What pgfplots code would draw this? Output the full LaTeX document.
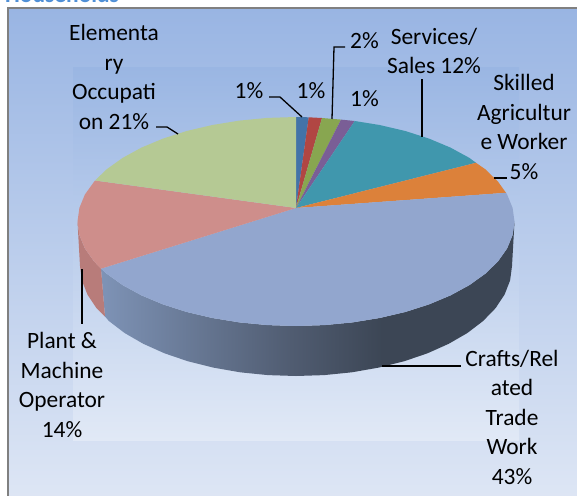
\documentclass[border=0pt]{standalone}
\usepackage{pgfplots}
\pgfplotsset{compat=1.18}
\usepackage{fontspec}
\setmainfont{Carlito}

\definecolor{bgtop}{HTML}{99B5E3}
\definecolor{bgbot}{HTML}{DFE7F5}
\definecolor{intop}{HTML}{9AB6E3}
\definecolor{inbot}{HTML}{E1E9F6}
\definecolor{cBlue}{HTML}{4373A8}
\definecolor{cRed}{HTML}{B14643}
\definecolor{cGreen}{HTML}{88A650}
\definecolor{cPurple}{HTML}{7A5E96}
\definecolor{cTeal}{HTML}{4097AD}
\definecolor{cOrange}{HTML}{DC813A}
\definecolor{cCrafts}{HTML}{92A6CE}
\definecolor{cPlant}{HTML}{CE8E8B}
\definecolor{cPlantSide}{HTML}{B87C7A}
\definecolor{cElem}{HTML}{B5C994}
\definecolor{sideL}{HTML}{7E93B6}
\definecolor{sideM}{HTML}{505C71}
\definecolor{sideR}{HTML}{3C4655}
\definecolor{frame}{HTML}{808080}
\definecolor{hh}{HTML}{4F8FD6}

% dark from about the middle of the wall onward
\pgfdeclarehorizontalshading{craftsside}{100bp}{
    color(0bp)=(sideL); color(25bp)=(sideL); color(48bp)=(sideM);
    color(59bp)=(sideR); color(100bp)=(sideR)}

\tikzset{
    lbl/.style={font=\fontsize{23.4}{29.5}\selectfont, align=center, inner sep=0pt, text=black},
    lead/.style={black, line width=1.3pt},
}

\begin{document}
\begin{tikzpicture}[x=1pt,y=1pt]
\useasboundingbox (0,0) rectangle (577pt,495pt);
\clip (0,0) rectangle (577pt,495pt);
\begin{axis}[
    at={(0,0)},
    anchor=south west,
    scale only axis,
    width=577pt,
    height=495pt,
    xmin=0, xmax=577,
    ymin=0, ymax=495,
    y dir=reverse,
    hide axis,
    clip=false,
    every axis plot/.append style={mark=none},
]
% chart frame and gradients
\addplot[draw=frame, line width=2pt, top color=bgtop, bottom color=bgbot]
    coordinates {(8,8) (590,8) (590,510) (8,510)} --cycle;
\addplot[draw=none, top color=intop, bottom color=inbot]
    coordinates {(73,67) (519,67) (519,440) (73,440)} --cycle;

% side wall, Crafts
\addplot[draw=none, shading=craftsside]
    coordinates {(514.5,221.5) (512.6,235.1) (507.1,248.5) (497.9,261.5) (485.2,273.8) (469.4,285.1)
    (450.5,295.4) (429,304.4) (405.3,312) (379.6,318) (352.6,322.4) (324.5,325.1) (296,326)
    (267.5,325.1) (239.4,322.4) (212.4,318) (186.7,312) (163,304.4) (141.5,295.4) (122.6,285.1)
    (106.8,273.8) (101,268.7)
    (105,316.5) (108.9,321) (124.6,333) (143.3,343.8) (164.5,353.3) (188,361.3) (213.3,367.6)
    (240.1,372.3) (267.8,375.1) (296,376) (324.2,375.1) (351.9,372.3) (378.7,367.6) (404,361.3)
    (427.5,353.3) (448.7,343.8) (467.4,333) (483.1,321) (495.6,308.1) (504.6,294.5) (510.1,280.4) (512,266)} --cycle;
% side wall, Plant
\addplot[draw=none, fill=cPlantSide]
    coordinates {(101,268.7) (94.1,261.5) (84.9,248.5) (79.4,235.1) (77.5,221.5)
    (80,266) (81.9,280.4) (87.4,294.5) (96.4,308.1) (105,316.5)} --cycle;

% top face, one polygon per slice: 1, 1, 2, 1, 12, 5, 43, 14, 21 percent
\addplot[draw=none, fill=cBlue] coordinates {(296,208) (296,117) (308.7,117.3)} --cycle;
\addplot[draw=none, fill=cRed] coordinates {(296,208) (308.7,117.3) (322,118)} --cycle;
\addplot[draw=none, fill=cGreen] coordinates {(296,208) (322,118) (341,119.6)} --cycle;
\addplot[draw=none, fill=cPurple] coordinates {(296,208) (341,119.6) (354.7,121)} --cycle;
\addplot[draw=none, fill=cTeal] coordinates {(296,208) (354.7,121) (379.6,125) (405.3,131) (429,138.6)
    (450.5,147.6) (469.4,157.9) (476,162.8)} --cycle;
\addplot[draw=none, fill=cOrange] coordinates {(296,208) (476,162.8) (485.2,169.2) (497.9,181.5) (506,192.8)} --cycle;
\addplot[draw=none, fill=cCrafts] coordinates {(296,208) (506,192.8) (507.1,194.5) (512.6,207.9) (514.5,221.5)
    (512.6,235.1) (507.1,248.5) (497.9,261.5) (485.2,273.8) (469.4,285.1) (450.5,295.4) (429,304.4)
    (405.3,312) (379.6,318) (352.6,322.4) (324.5,325.1) (296,326) (267.5,325.1) (239.4,322.4)
    (212.4,318) (186.7,312) (163,304.4) (141.5,295.4) (122.6,285.1) (106.8,273.8) (101,268.7)} --cycle;
\addplot[draw=none, fill=cPlant] coordinates {(296,208) (101,268.7) (94.1,261.5) (84.9,248.5) (79.4,235.1)
    (77.5,221.5) (79.4,207.9) (84.9,194.5) (95,180.5)} --cycle;
\addplot[draw=none, fill=cElem] coordinates {(296,208) (95,180.5) (106.8,169.2) (122.6,157.9) (141.5,147.6)
    (163,138.6) (186.7,131) (212.4,125) (239.4,120.6) (267.5,117.9) (296,117)} --cycle;

% leader lines
\addplot[lead] coordinates {(156,127) (167,127) (178,134)};
\addplot[lead] coordinates {(269,97) (280,97) (302,117)};
\addplot[lead] coordinates {(345,47) (334,47) (332,119)};
\addplot[lead] coordinates {(422,79) (422,137)};
\addplot[lead] coordinates {(494,178) (507,178)};
\addplot[lead] coordinates {(382,366) (461,366)};
\addplot[lead] coordinates {(82,269) (82,324)};

% labels
\node[lbl] at (axis cs:114,77) {Elementa\\ry\\Occupati\\on 21\%};
\node[lbl] at (axis cs:249,91) {1\%};
\node[lbl] at (axis cs:311,91) {1\%};
\node[lbl] at (axis cs:364.5,41) {2\%};
\node[lbl] at (axis cs:364.5,99) {1\%};
\node[lbl] at (axis cs:434,51) {Services/\\Sales 12\%};
\node[lbl] at (axis cs:524,127) {Skilled\\Agricultur\\e Worker\\5\%};
\node[lbl] at (axis cs:62,385) {Plant \&\\Machine\\Operator\\14\%};
\node[lbl] at (axis cs:512,417) {Crafts/Rel\\ated\\Trade\\Work\\43\%};
\node[anchor=base west, inner sep=0pt, text=hh, font=\fontsize{23.4}{29.5}\selectfont\bfseries] at (axis cs:5,3) {Households};
\end{axis}
\end{tikzpicture}
\end{document}
